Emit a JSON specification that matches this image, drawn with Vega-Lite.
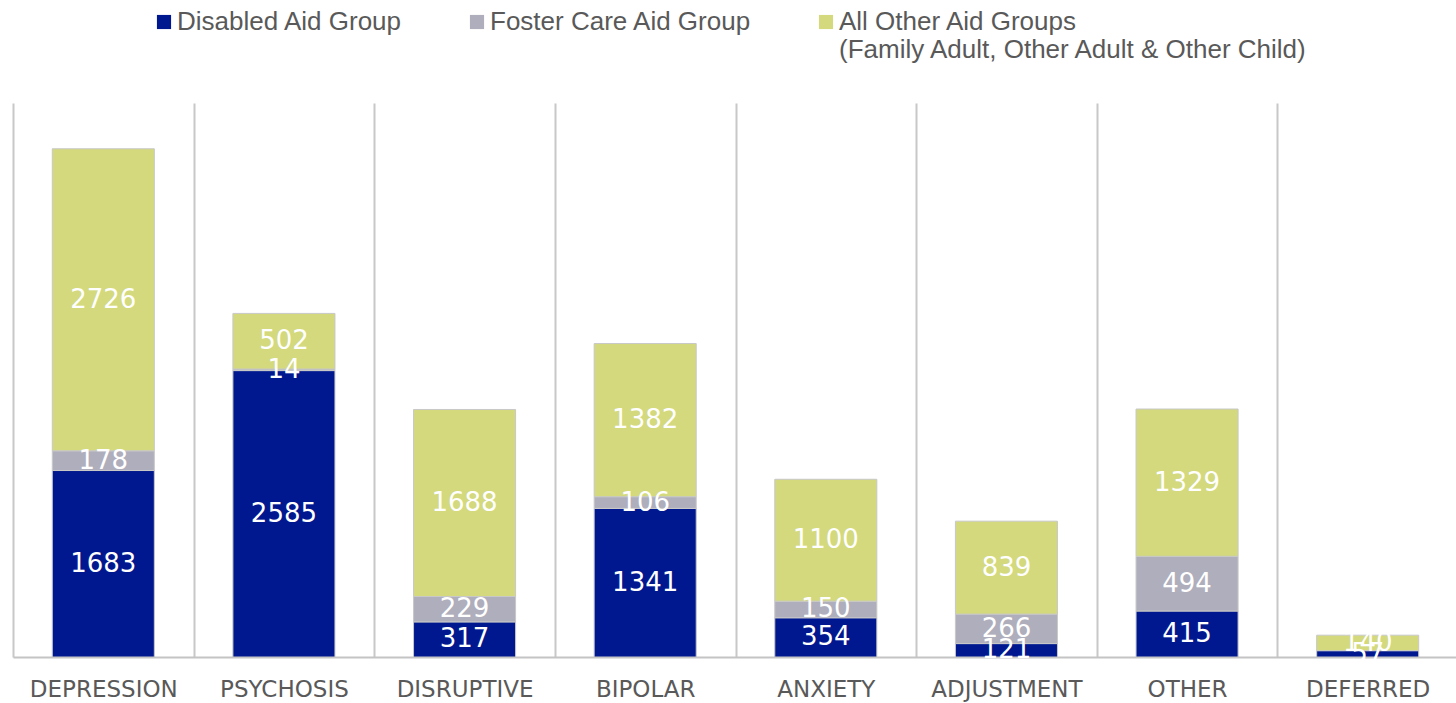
{
  "$schema": "https://vega.github.io/schema/vega-lite/v6.json",
  "width": 1445,
  "height": 554,
  "autosize": "none",
  "padding": {"left": 13, "top": 103, "right": 0, "bottom": 46},
  "background": "white",
  "config": {"view": {"stroke": null}},
  "data": {
    "values": [
      {"diagnosis": "DEPRESSION", "group": "Disabled Aid Group", "order": 1, "count": 1683},
      {"diagnosis": "DEPRESSION", "group": "Foster Care Aid Group", "order": 2, "count": 178},
      {"diagnosis": "DEPRESSION", "group": "All Other Aid Groups", "order": 3, "count": 2726},
      {"diagnosis": "PSYCHOSIS", "group": "Disabled Aid Group", "order": 1, "count": 2585},
      {"diagnosis": "PSYCHOSIS", "group": "Foster Care Aid Group", "order": 2, "count": 14},
      {"diagnosis": "PSYCHOSIS", "group": "All Other Aid Groups", "order": 3, "count": 502},
      {"diagnosis": "DISRUPTIVE", "group": "Disabled Aid Group", "order": 1, "count": 317},
      {"diagnosis": "DISRUPTIVE", "group": "Foster Care Aid Group", "order": 2, "count": 229},
      {"diagnosis": "DISRUPTIVE", "group": "All Other Aid Groups", "order": 3, "count": 1688},
      {"diagnosis": "BIPOLAR", "group": "Disabled Aid Group", "order": 1, "count": 1341},
      {"diagnosis": "BIPOLAR", "group": "Foster Care Aid Group", "order": 2, "count": 106},
      {"diagnosis": "BIPOLAR", "group": "All Other Aid Groups", "order": 3, "count": 1382},
      {"diagnosis": "ANXIETY", "group": "Disabled Aid Group", "order": 1, "count": 354},
      {"diagnosis": "ANXIETY", "group": "Foster Care Aid Group", "order": 2, "count": 150},
      {"diagnosis": "ANXIETY", "group": "All Other Aid Groups", "order": 3, "count": 1100},
      {"diagnosis": "ADJUSTMENT", "group": "Disabled Aid Group", "order": 1, "count": 121},
      {"diagnosis": "ADJUSTMENT", "group": "Foster Care Aid Group", "order": 2, "count": 266},
      {"diagnosis": "ADJUSTMENT", "group": "All Other Aid Groups", "order": 3, "count": 839},
      {"diagnosis": "OTHER", "group": "Disabled Aid Group", "order": 1, "count": 415},
      {"diagnosis": "OTHER", "group": "Foster Care Aid Group", "order": 2, "count": 494},
      {"diagnosis": "OTHER", "group": "All Other Aid Groups", "order": 3, "count": 1329},
      {"diagnosis": "DEFERRED", "group": "Disabled Aid Group", "order": 1, "count": 57},
      {"diagnosis": "DEFERRED", "group": "All Other Aid Groups", "order": 3, "count": 140}
    ]
  },
  "encoding": {
    "x": {
      "field": "diagnosis",
      "type": "nominal",
      "sort": null,
      "scale": {"paddingInner": 0, "paddingOuter": 0},
      "axis": {
        "title": null,
        "grid": true,
        "tickBand": "extent",
        "gridColor": "#c8c8c8",
        "gridWidth": 2,
        "ticks": false,
        "domainColor": "#c4c4c4",
        "domainWidth": 2,
        "labelAngle": 0,
        "labelFont": "DejaVu Sans",
        "labelFontSize": 23,
        "labelColor": "#595959",
        "labelPadding": 21
      }
    },
    "y": {
      "field": "count",
      "type": "quantitative",
      "stack": "zero",
      "scale": {"domain": [0, 5000], "nice": false},
      "axis": null
    },
    "order": {"field": "order", "type": "quantitative"}
  },
  "layer": [
    {
      "mark": {"type": "bar", "width": {"band": 0.565}, "stroke": "#c8c8c8", "strokeWidth": 1},
      "encoding": {
        "color": {
          "field": "group",
          "type": "nominal",
          "scale": {
            "domain": ["Disabled Aid Group", "Foster Care Aid Group", "All Other Aid Groups"],
            "range": ["#00188f", "#afaebc", "#d3d97c"]
          },
          "legend": {
            "title": null,
            "orient": "none",
            "direction": "horizontal",
            "legendX": 138,
            "legendY": -94,
            "symbolType": "square",
            "symbolSize": 200,
            "symbolStrokeWidth": 0,
            "labelFont": "Liberation Sans",
            "labelFontSize": 26,
            "labelColor": "#595959",
            "labelLimit": 600,
            "columnPadding": 61,
            "labelOffset": 0,
            "labelBaseline": "middle",
            "labelExpr": "datum.label == 'All Other Aid Groups' ? ['All Other Aid Groups', '(Family Adult, Other Adult & Other Child)'] : [datum.label, '']",
            "encode": {"labels": {"update": {"lineHeight": {"value": 32}}}}
          }
        }
      }
    },
    {
      "transform": [{"filter": "datum.count >= 10"}],
      "mark": {
        "type": "text",
        "color": "white",
        "font": "DejaVu Sans",
        "fontSize": 26
      },
      "encoding": {
        "y": {"field": "count", "type": "quantitative", "stack": "zero", "bandPosition": 0.5},
        "text": {"field": "count", "type": "quantitative"}
      }
    }
  ]
}
